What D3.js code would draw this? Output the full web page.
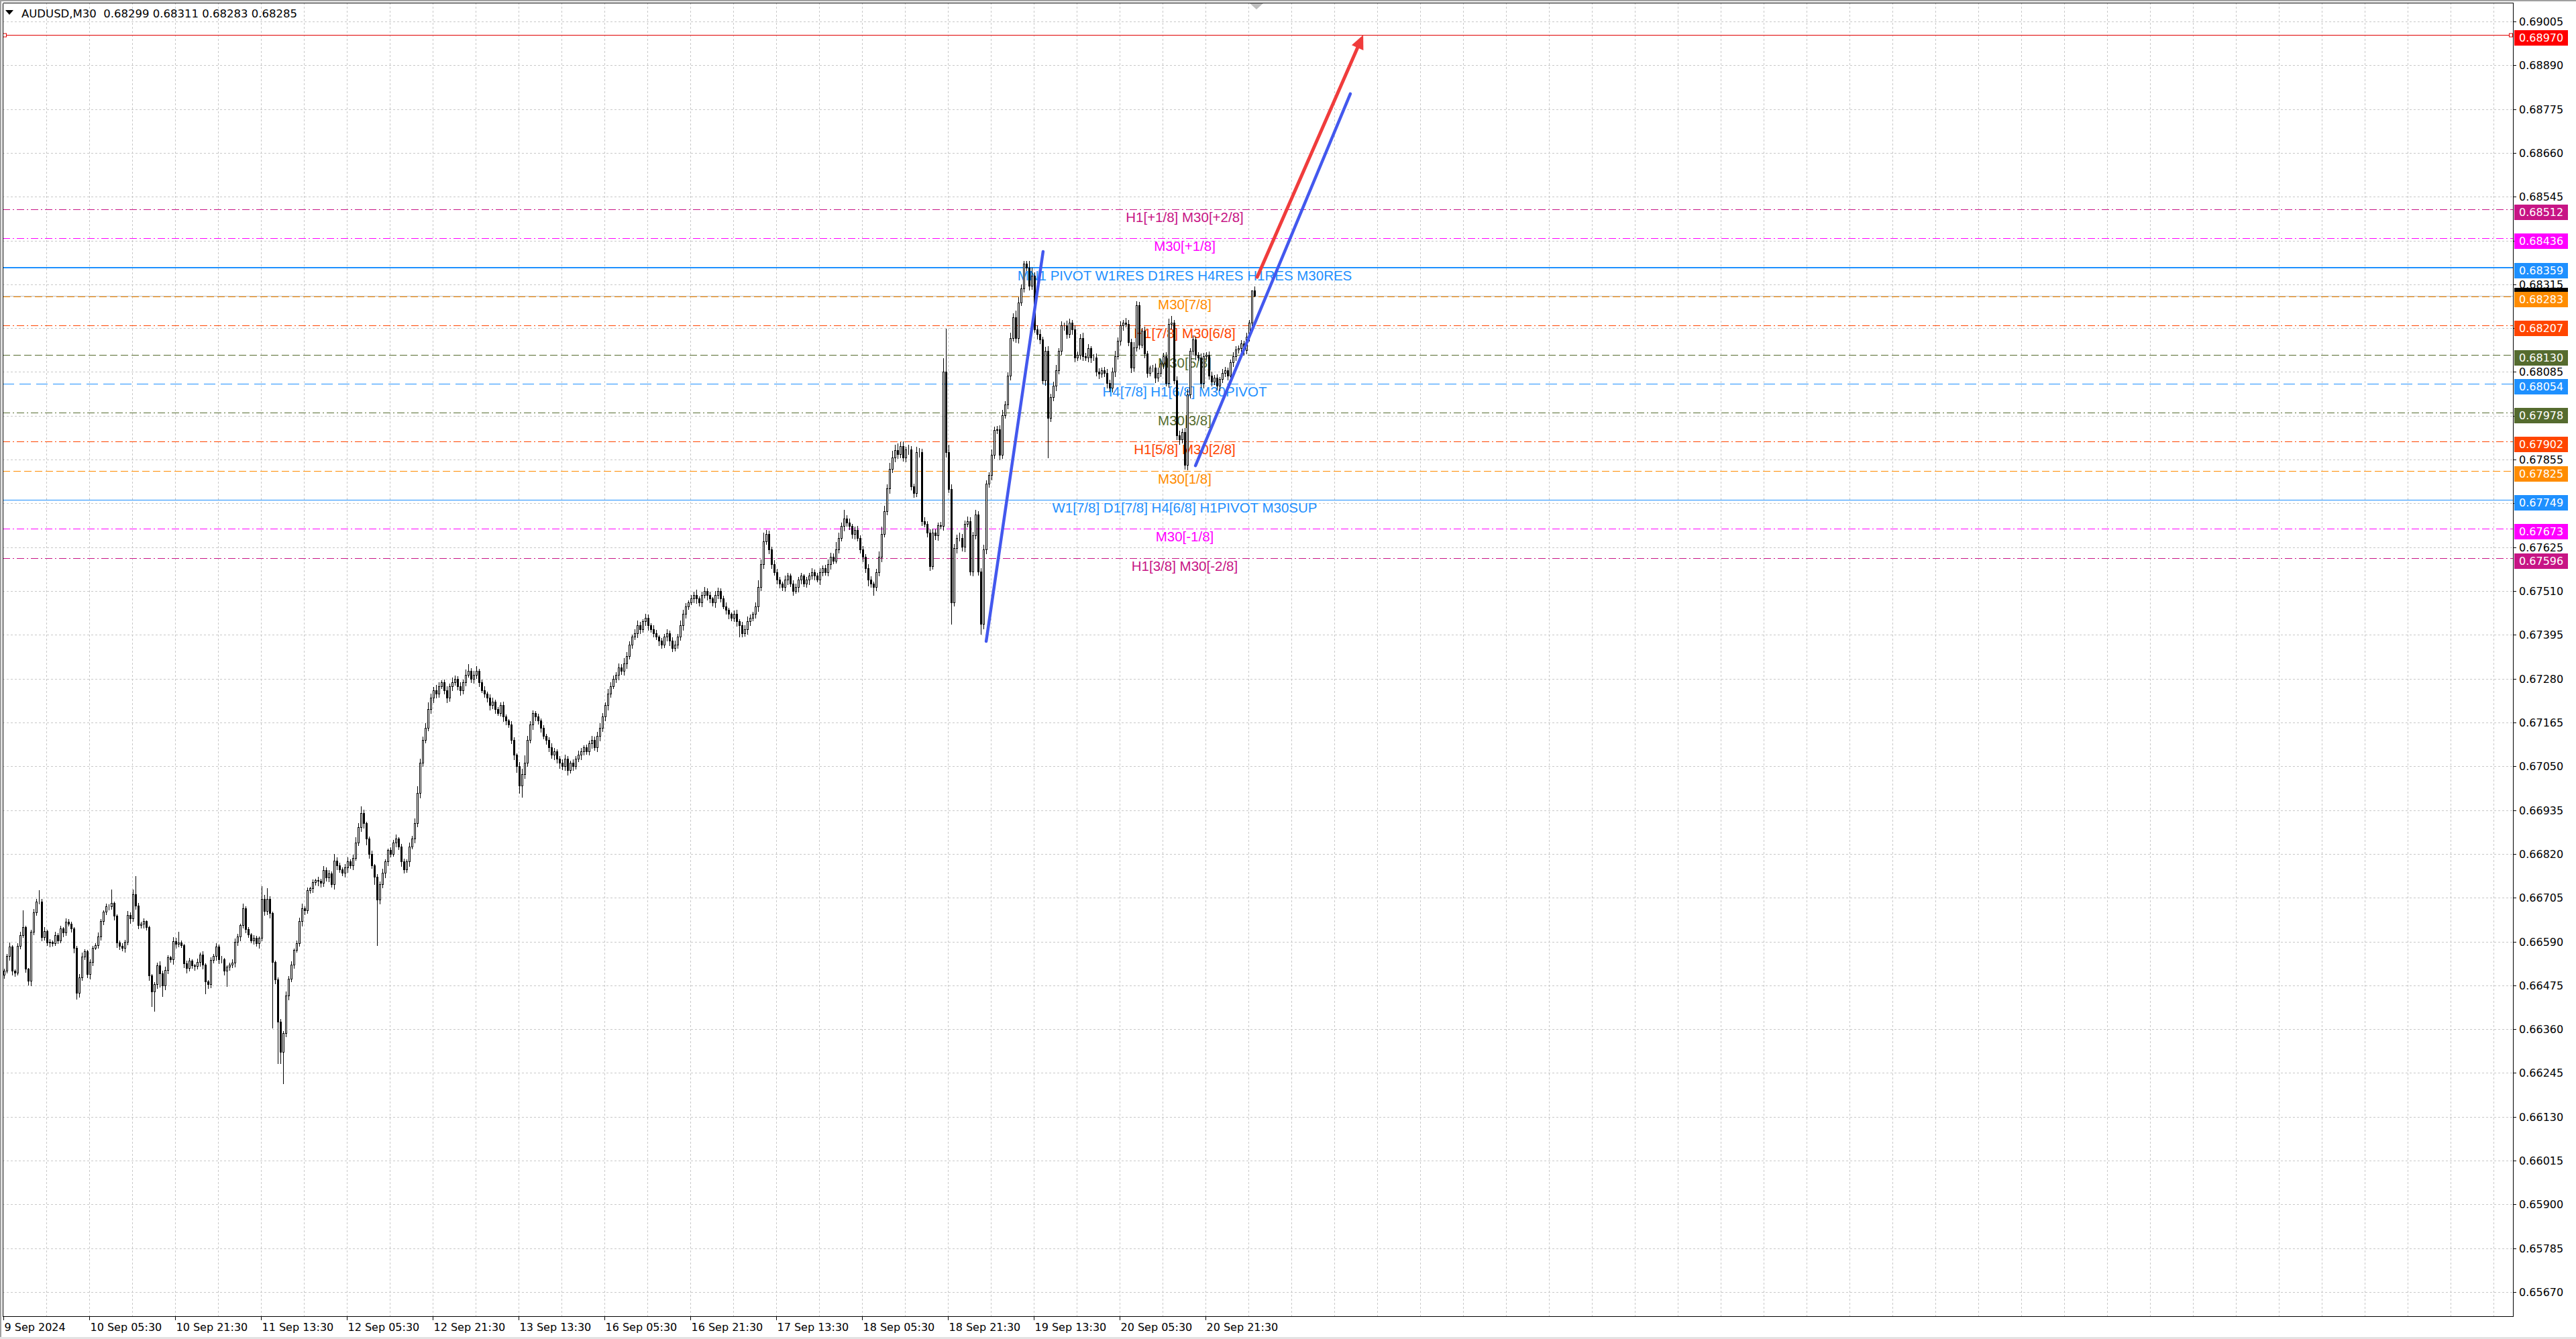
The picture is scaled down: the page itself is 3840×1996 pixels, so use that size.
<!DOCTYPE html>
<html><head><meta charset="utf-8">
<script src="https://cdn.jsdelivr.net/npm/d3@7/dist/d3.min.js"></script>
<style>html,body{margin:0;padding:0;background:#fff;overflow:hidden}svg{display:block}</style>
</head><body>
<svg id="chart" width="3840" height="1996"></svg>
<script>
// ---------------- DATA ----------------
const symbolTitle = "AUDUSD,M30  0.68299 0.68311 0.68283 0.68285";
const priceBase = 0.66;      // closes / wicks are in points (1e-5) above this base
const firstOpen = 502;
const closes = [
 514,552,577,514,509,579,607,628,518,487,615,667,694,694,602,617,587,590,586,607,
 593,625,614,642,637,625,573,455,496,550,564,505,536,574,580,604,643,668,682,682,
 691,658,587,578,573,590,660,650,714,685,633,637,643,628,501,458,478,527,507,474,
 515,548,543,591,584,587,581,532,521,540,527,526,537,555,529,485,478,541,552,576,
 544,543,513,524,529,534,589,604,633,677,623,609,593,599,586,599,702,670,702,664,
 537,490,379,300,350,449,493,530,568,586,643,677,672,724,730,746,752,749,744,778,
 758,769,740,802,
 790,780,770,785,800,790,810, 850,890,927,900, 860,820,790,760,700,740,
 770,800,830,820,850,860,840,800, 780,800,840,860, 900,980,1060,1120,1150,1200,1230,1250,
 1240,1260,1270,1250,1230,1260,1270,1280,1260,1250, 1270,1290,1300,1280,1290,1300,1270,
 1250,1240,1230,1210,1220,1200,1190,1210,1180,1170,1160, 1120,1080,1050,1000,1030,1060,
 1120,1160,1190,1180,1170,1150, 1130,1120,1100,1080,1090,1070,1060,1050,1070,1040,1060,1050,
 1070,1080,1090,1100,1090,1110,1120,1100,1130,1150, 1180,1210,1240,1260,1280,1290,1310,1300,1320,1340,1370,1390,
 1400,1420,1410,1430,1440,1420,1410,1400,1390, 1380,1370,1390,1400,1380,1360,1370,1390,1420,
 1450,1470,1480,1490,1500,1490,1480,1500,1510,1500,1490,1480,1500,1510,1490,1470,1460,1450,
 1440,1450,1430,1420,1400,1410,1430,1440,1450,1470, 1520,1580,1640,1660,1620,1580,
 1560,1540,1530,1520,1540,1550,1530,1510,1520,1540,1550,1530,
 1540,1550,1560,1550,1540,1560,1570,1560,1580,1600,1590,1620,
 1650,1680,1700,1690,1680,1660,1670,1650,1620,1600, 1570,1540,1530,1520,1560,1600,
 1660,1720,1780,1830,1860,1880,1870,1890,1860,
 1881,1881,1784,1767,1875,1875,1693,1687,1663,1576,1663,1656,1683,1681,
 2086,1875,1777,1481,1623,1650,1650,1626,1687,1693,
 1562,1656,1710,1562,1424,1619,1791,1814,1868,1932,
 1935,1868,1972,1999,2076,2174,2228,2174,2268,2305,
 2369,2359,2312,2338,2197,2184,2170,2063,2140,1965,
 2019,2049,2090,2140,2207,2207,2184,2214,2197,2123,
 2130,2174,2127,2123,2147,2123,2123,2086,2080,2090,
 2083,2056,2043,2086,2127,2167,2207,2214,2211,2164,
 2096,2150,2261,2157,2194,2133,2083,2096,2096,2070,
 2083,2107,2127,2056,2211,2214,2063,1918,1908,1928,
 1841,2026,2140,2170,2130,2123,2056,2127,2130,2076,
 2060,2070,2049,2066,2083,2090,2076,2110,2127,2144,
 2148,2160,2142,2177,2214,2299,2285
];
const upWick = [
 6,8,12,5,4,8,10,45,6,5,8,10,9,32,10,12,6,8,5,10,
 6,8,5,10,8,6,5,8,10,12,8,5,10,6,8,12,8,6,10,8,
 37,6,5,8,10,6,12,8,15,49,8,6,10,5,6,5,8,10,12,8,
 10,8,6,12,10,30,8,5,10,8,6,5,10,8,12,6,5,10,8,12,
 8,10,6,5,8,12,10,8,6,15,8,6,5,10,8,6,35,12,30,8,
 6,5,8,10,6,12,8,10,6,8,12,15,8,10,6,8,5,10,8,12,
 8,10,6,20,10,8,6,10,12,8,10,15,12,20,10,6,8,10,5,8,
 10,12,8,6,10,8,12,6,8,10,8,12,10,15,20,12,10,15,20,12,
 10,15,12,8,10,12,8,15,10,8,12,10,15,20,10,12,15,8,10,12,
 8,10,12,6,8,10,12,8,6,10,8,6,12,15,20,12,10,8,6,10,
 8,10,6,8,12,10,6,8,10,12,8,6,10,8,12,10,6,8,10,12,
 10,12,15,12,10,15,12,10,8,12,10,15,12,10,8,12,15,10,8,12,
 10,8,12,10,6,8,10,12,8,10,12,10,15,12,10,8,12,10,15,8,
 10,12,8,10,6,12,10,8,10,12,8,6,10,12,8,10,12,15,10,8,
 12,20,15,25,12,10,8,12,10,8,6,12,10,8,10,12,8,10,6,8,
 10,12,8,10,12,8,10,15,12,10,20,15,12,25,10,12,8,10,12,8,
 10,8,12,10,6,10,15,20,15,12,18,20,15,20,12,15,10,15,12,10,
 15,12,10,12,8,10,12,10,8,10,37,115,20,15,12,10,15,12,10,15,
 12,10,15,12,10,15,12,10,15,12,10,12,15,12,10,15,12,20,15,12,
 9,9,19,22,10,12,15,10,12,15,10,12,15,10,12,10,15,12,10,12,
 10,12,15,10,12,8,10,12,10,8,10,12,10,12,15,10,12,10,15,12,
 10,15,12,10,8,12,10,8,10,12,15,12,10,12,15,20,10,12,15,10,
 12,15,10,12,10,8,12,10,8,10,12,8,10,8,12,10,8,10,12,10,
 8,10,8,12,10,2,12
];
const dnWick = [
 8,6,10,12,10,6,8,5,8,10,12,6,8,5,10,8,6,10,8,6,
 8,6,10,8,5,10,12,15,10,8,6,10,12,8,5,6,10,8,6,8,
 6,10,12,8,6,10,8,12,6,10,8,6,10,8,12,38,51,10,36,28,
 10,8,6,12,10,8,6,10,12,8,6,10,8,12,10,32,10,8,6,10,
 12,8,10,40,8,6,10,8,12,6,10,8,6,10,8,12,6,10,8,12,
 173,10,108,29,82,10,12,8,10,6,8,12,10,8,6,10,8,12,10,8,
 8,10,6,12,10,8,6,10,12,8,10,6,8,10,12,15,10,8,20,120,
 10,8,12,10,8,6,10,8,12,10,8,12,6,10,8,12,10,8,6,10,
 12,10,8,6,10,12,8,10,6,8,12,10,8,6,10,12,8,10,6,8,
 10,12,8,10,6,8,12,10,8,10,12,15,20,30,12,10,8,12,10,8,
 10,8,12,10,8,12,10,15,8,10,12,8,10,6,8,12,10,8,10,12,
 8,10,12,8,10,12,8,6,10,12,8,10,12,8,10,6,12,10,8,10,
 12,8,10,6,12,10,8,10,12,8,6,10,8,12,10,8,6,10,12,8,
 10,8,12,10,8,12,10,8,6,10,12,8,10,12,30,10,8,12,10,8,
 10,12,8,10,6,12,10,8,10,12,8,10,12,8,10,6,12,10,8,10,
 12,8,10,6,12,10,8,10,12,8,6,10,8,12,10,8,10,12,8,10,
 12,10,15,10,20,8,10,12,8,10,12,8,10,12,10,8,10,12,8,10,
 8,12,10,8,10,12,8,10,12,8,10,12,8,57,10,12,8,10,12,8,
 10,12,8,10,27,12,10,8,12,10,8,12,10,8,10,12,8,10,12,8,
 10,8,12,10,8,12,10,8,12,104,10,8,12,10,8,12,10,8,12,10,
 8,10,12,8,10,12,8,10,12,8,10,12,8,10,12,8,10,12,8,10,
 12,8,10,12,8,10,12,8,10,12,8,10,12,8,10,12,8,10,12,8,
 10,12,8,10,12,8,10,12,8,10,12,8,10,12,8,10,12,8,10,12,
 8,10,12,8,10,6,2
];
const priceTicks = [0.69005,0.68890,0.68775,0.68660,0.68545,0.68430,0.68315,0.68200,0.68085,0.67970,
 0.67855,0.67740,0.67625,0.67510,0.67395,0.67280,0.67165,0.67050,0.66935,0.66820,0.66705,0.66590,
 0.66475,0.66360,0.66245,0.66130,0.66015,0.65900,0.65785,0.65670];
const timeLabels = ["9 Sep 2024","10 Sep 05:30","10 Sep 21:30","11 Sep 13:30","12 Sep 05:30","12 Sep 21:30",
 "13 Sep 13:30","16 Sep 05:30","16 Sep 21:30","17 Sep 13:30","18 Sep 05:30","18 Sep 21:30",
 "19 Sep 13:30","20 Sep 05:30","20 Sep 21:30"];
const barsPerLabel = 32;
const targetPrice = 0.68970;
const bidPrice = 0.68285;
const levelPrices = [0.68512,0.68436,0.68359,0.68283,0.68207,0.68130,0.68054,0.67978,0.67902,0.67825,0.67749,0.67673,0.67596];
const levelNames = ["H1[+1/8] M30[+2/8]","M30[+1/8]","MN1 PIVOT W1RES D1RES H4RES H1RES M30RES","M30[7/8]",
 "H1[7/8] M30[6/8]","M30[5/8]","H4[7/8] H1[6/8] M30PIVOT","M30[3/8]","H1[5/8] M30[2/8]","M30[1/8]",
 "W1[7/8] D1[7/8] H4[6/8] H1PIVOT M30SUP","M30[-1/8]","H1[3/8] M30[-2/8]"];
// trend lines: [barIndex, price] start / end
const blueTrend1 = [[365.9,0.67378],[387.1,0.68401]];
const blueTrend2 = [[443.9,0.67839],[501.6,0.68815]];
const redArrow   = [[466.9,0.68334],[506.4,0.68970]];

// ---------------- STYLES ----------------
const levelColors = ["#C71585","#FF00FF","#1E90FF","#FF8C00","#FF4500","#556B2F","#1E90FF","#556B2F","#FF4500","#FF8C00","#1E90FF","#FF00FF","#C71585"];
const levelDash   = ["11,4,2,4","11,4,2,4",null,"11,5","11,4,2,4","11,5","17,8","11,4,2,4","11,4,2,4","11,5",null,"11,4,2,4","11,4,2,4"];
const levelWidth  = [1,1,2,1,1,1,1,1,1,1,1,1,1];
const axisFont = "'DejaVu Sans', Verdana, sans-serif";
const labelFont = "'Liberation Sans', Arial, sans-serif";

// ---------------- DRAW ----------------
const svg = d3.select("#chart");
const plotL = 4, plotR = 3746, plotT = 4, plotB = 1962;
const y = d3.scaleLinear().domain([0.69005, 0.65670]).range([32, 1926]);
const x = d3.scaleLinear().domain([0, 1]).range([6.5, 10.5]);   // bar centre
const py = p => Math.round(y(p)) + 0.5;
const toPrice = v => priceBase + v / 1e5;

svg.append("rect").attr("width",3840).attr("height",1996).attr("fill","#fff");
// window frame
svg.append("rect").attr("x",0).attr("y",0).attr("width",3840).attr("height",2).attr("fill","#A0A0A0");
svg.append("rect").attr("x",0).attr("y",0).attr("width",2).attr("height",1996).attr("fill","#A0A0A0");
svg.append("rect").attr("x",0).attr("y",1993).attr("width",3840).attr("height",3).attr("fill","#E3E3E3");

const grid = svg.append("g").attr("stroke","#C8C8C8").attr("stroke-width",1).attr("stroke-dasharray","3,3").attr("shape-rendering","crispEdges");
// vertical grid every 16 bars
const maxBar = Math.floor(x.invert(plotR));
d3.range(16, maxBar, 16).forEach(b => {
  const gx = Math.round(x(b) - 1.5) + 0.5;
  if (gx < plotR - 2) grid.append("line").attr("x1",gx).attr("x2",gx).attr("y1",plotT).attr("y2",plotB);
});
priceTicks.forEach(p => {
  grid.append("line").attr("x1",plotL).attr("x2",plotR).attr("y1",py(p)).attr("y2",py(p));
});

// bid line
svg.append("line").attr("x1",plotL).attr("x2",plotR).attr("y1",py(bidPrice)).attr("y2",py(bidPrice))
  .attr("stroke","#C0C0C0").attr("stroke-width",1).attr("shape-rendering","crispEdges");

// level lines
const lv = svg.append("g").attr("shape-rendering","crispEdges");
levelPrices.forEach((p,i) => {
  const l = lv.append("line").attr("x1",plotL).attr("x2",plotR)
    .attr("y1", levelWidth[i]===2 ? Math.round(y(p)) : py(p)).attr("y2", levelWidth[i]===2 ? Math.round(y(p)) : py(p))
    .attr("stroke",levelColors[i]).attr("stroke-width",levelWidth[i]);
  if (levelDash[i]) l.attr("stroke-dasharray",levelDash[i]);
});
// target red line
svg.append("line").attr("x1",plotL).attr("x2",plotR).attr("y1",py(targetPrice)).attr("y2",py(targetPrice))
  .attr("stroke","#E00000").attr("stroke-width",1).attr("shape-rendering","crispEdges");
[[plotL+3],[plotR-3]].forEach(([cx]) => {
  svg.append("rect").attr("x",cx-2.5).attr("y",py(targetPrice)-2.5).attr("width",5).attr("height",5)
    .attr("fill","#fff").attr("stroke","#E00000").attr("stroke-width",1);
});

// level texts
const labelX = 1766;
levelPrices.forEach((p,i) => {
  svg.append("text").attr("x",labelX).attr("y",y(p)+19).attr("text-anchor","middle")
    .attr("font-family",labelFont).attr("font-size","20.5px").attr("fill",levelColors[i]).text(levelNames[i]);
});

// candles
const cg = svg.append("g").attr("shape-rendering","crispEdges");
const n = Math.min(closes.length, upWick.length, dnWick.length);
for (let i = 0; i < n; i++) {
  const o = i === 0 ? firstOpen : closes[i-1];
  const c = closes[i];
  const hi = Math.max(o,c) + upWick[i], lo = Math.min(o,c) - dnWick[i];
  const cx = x(i);
  cg.append("line").attr("x1",cx).attr("x2",cx).attr("y1",py(toPrice(hi))).attr("y2",py(toPrice(lo)))
    .attr("stroke","#000").attr("stroke-width",1);
  const top = py(toPrice(Math.max(o,c))), bot = py(toPrice(Math.min(o,c)));
  cg.append("rect").attr("x",cx-1).attr("y",top).attr("width",2).attr("height",Math.max(0,bot-top))
    .attr("fill", c > o ? "#fff" : "#000").attr("stroke","#000").attr("stroke-width",1);
}

// trend lines
const lineGen = d3.line().x(d => x(d[0])).y(d => y(d[1]));
svg.append("path").attr("d",lineGen(blueTrend1)).attr("stroke","#4358EE").attr("stroke-width",4.5)
  .attr("stroke-linecap","round").attr("fill","none");
svg.append("path").attr("d",lineGen(blueTrend2)).attr("stroke","#4358EE").attr("stroke-width",4.5)
  .attr("stroke-linecap","round").attr("fill","none");
{
  const [a,b] = redArrow;
  const x0 = x(a[0]), y0 = y(a[1]), x1 = x(b[0]), y1 = y(b[1]);
  const dx = x1-x0, dy = y1-y0, len = Math.hypot(dx,dy), ux = dx/len, uy = dy/len;
  const headL = 21, headW = 9.5;
  const bx = x1 - ux*headL, by = y1 - uy*headL;
  svg.append("line").attr("x1",x0).attr("y1",y0).attr("x2",bx+ux*2).attr("y2",by+uy*2)
    .attr("stroke","#F03C3C").attr("stroke-width",5).attr("stroke-linecap","round");
  svg.append("path").attr("d",`M${x1},${y1}L${bx-uy*headW},${by+ux*headW}L${bx+uy*headW},${by-ux*headW}Z`)
    .attr("fill","#F03C3C");
}

// frame
const fr = svg.append("g").attr("stroke","#000").attr("stroke-width",1).attr("shape-rendering","crispEdges");
fr.append("line").attr("x1",plotL+0.5).attr("x2",plotR+0.5).attr("y1",plotT+0.5).attr("y2",plotT+0.5);
fr.append("line").attr("x1",plotL+0.5).attr("x2",plotL+0.5).attr("y1",plotT+0.5).attr("y2",plotB+0.5);
fr.append("line").attr("x1",plotR+0.5).attr("x2",plotR+0.5).attr("y1",plotT+0.5).attr("y2",plotB+0.5);
fr.append("line").attr("x1",plotL+0.5).attr("x2",plotR+0.5).attr("y1",plotB+0.5).attr("y2",plotB+0.5);

// chart shift marker
{
  const mx = Math.round(x(n-1)) + 2;
  svg.append("path").attr("d",`M${mx-10},5L${mx+10},5L${mx},14Z`).attr("fill","#BDBDBD");
}

// title
svg.append("path").attr("d","M8,15L20,15L14,22Z").attr("fill","#000");
svg.append("text").attr("x",32).attr("y",26).attr("font-family",axisFont).attr("font-size","16.5px")
  .attr("fill","#000").attr("xml:space","preserve").style("white-space","pre").text(symbolTitle);

// price axis
const fmt = d3.format(".5f");
const boxPrices = [targetPrice, ...levelPrices];
priceTicks.forEach(p => {
  const ty = py(p);
  svg.append("line").attr("x1",plotR).attr("x2",plotR+5).attr("y1",ty).attr("y2",ty)
    .attr("stroke","#000").attr("shape-rendering","crispEdges");
  const hidden = boxPrices.some(b => Math.abs(y(b) - y(p)) < 10);
  if (!hidden) svg.append("text").attr("x",3755).attr("y",y(p)+6).attr("font-family",axisFont)
    .attr("font-size","16px").attr("fill","#000").text(fmt(p));
});
// bid box (behind)
svg.append("rect").attr("x",3748).attr("y",Math.round(y(bidPrice))-12).attr("width",80).attr("height",23).attr("fill","#000");
const boxColors = ["#FF0000", ...levelColors];
boxPrices.forEach((p,i) => {
  const top = Math.round(y(p)) - 7;
  svg.append("rect").attr("x",3748).attr("y",top).attr("width",80).attr("height",23).attr("fill",boxColors[i]);
  svg.append("text").attr("x",3755).attr("y",top+17).attr("font-family",axisFont).attr("font-size","16px")
    .attr("fill","#fff").text(fmt(p));
});

// time axis
timeLabels.forEach((t,k) => {
  const tx = Math.round(x(k*barsPerLabel) - 1.5) + 0.5;
  svg.append("line").attr("x1",tx).attr("x2",tx).attr("y1",plotB).attr("y2",plotB+6)
    .attr("stroke","#000").attr("shape-rendering","crispEdges");
  svg.append("text").attr("x",tx+1).attr("y",1984).attr("font-family",axisFont).attr("font-size","16px")
    .attr("fill","#000").text(t);
});
</script>
</body></html>
